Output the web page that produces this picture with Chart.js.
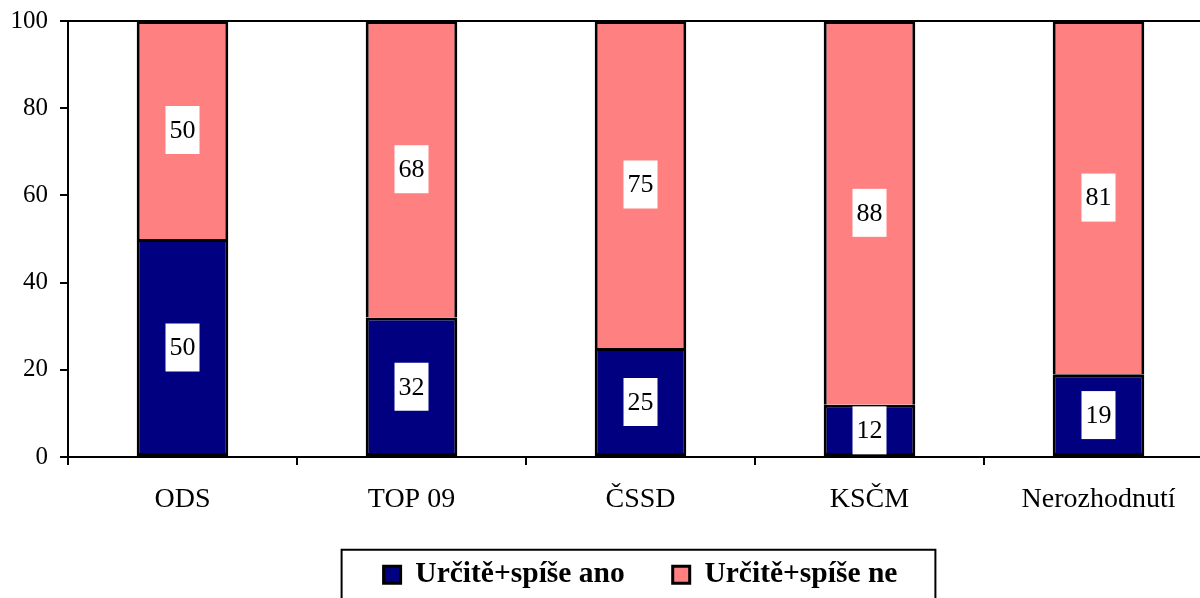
<!DOCTYPE html>
<html>
<head>
<meta charset="utf-8">
<script src="https://cdn.jsdelivr.net/npm/chart.js@4"></script>
<style>
body{margin:0;background:#fff;overflow:hidden;}
#wrap{width:1200px;height:598px;overflow:hidden;}
</style>
</head>
<body>
<div id="wrap"><canvas id="chart" width="1215" height="598"></canvas></div>
<script>
var categories=["ODS","TOP 09","ČSSD","KSČM","Nerozhodnutí"];
var seriesNames=["Určitě+spíše ano","Určitě+spíše ne"];
var anoValues=[50,32,25,12,19];
var neValues=[50,68,75,88,81];
var yTicks=[0,20,40,60,80,100];

var font="'Liberation Serif','Times New Roman',serif";

// white boxes with the numbers in the middle of each segment
var labelPlugin={
	id:"segLabels",
	afterDatasetsDraw:function(chart){
		var ctx=chart.ctx;
		ctx.save();
		ctx.font="26px "+font;
		ctx.textAlign="center";
		ctx.textBaseline="middle";
		chart.data.datasets.forEach(function(ds,i){
			var meta=chart.getDatasetMeta(i);
			meta.data.forEach(function(bar,j){
				var cy=(bar.y+bar.base)/2;
				var txt=String(ds.data[j]);
				var w=ctx.measureText(txt).width+8;
				ctx.fillStyle="#fff";
				ctx.fillRect(bar.x-w/2,cy-24,w,48);
				ctx.fillStyle="#000";
				ctx.fillText(txt,bar.x,cy+1);
			});
		});
		ctx.restore();
	}
};

// frame round the legend
var legendFrame={
	id:"legendFrame",
	afterDraw:function(chart){
		var boxes=chart.legend.legendHitBoxes;
		if(!boxes||!boxes.length)return;
		var first=boxes[0],last=boxes[boxes.length-1];
		var cy=first.top+first.height/2;
		var ctx=chart.ctx;
		ctx.save();
		ctx.strokeStyle="#000";
		ctx.lineWidth=2;
		var l=first.left-42,r=last.left+last.width+38;
		ctx.strokeRect(l,cy-25,r-l,80);
		ctx.restore();
	}
};

var chart=new Chart("chart",{
	type:"bar",
	data:{
		labels:categories,
		datasets:[{
			label:seriesNames[0],
			data:anoValues,
			backgroundColor:"#000080",
			borderColor:"#000",
			borderWidth:3,
			borderSkipped:false,
			barPercentage:0.8,
			categoryPercentage:0.5
		},{
			label:seriesNames[1],
			data:neValues,
			backgroundColor:"#FF8080",
			borderColor:"#000",
			borderWidth:3,
			borderSkipped:"start",
			barPercentage:0.8,
			categoryPercentage:0.5
		}]
	},
	options:{
		responsive:false,
		animation:false,
		devicePixelRatio:1,
		layout:{padding:{top:21,right:2,left:0,bottom:0}},
		scales:{
			x:{
				stacked:true,
				border:{color:"#000",width:2},
				grid:{offset:true,drawOnChartArea:false,tickLength:8,tickColor:"#000",lineWidth:2},
				ticks:{color:"#000",font:{family:font,size:28},padding:18,maxRotation:0},
				afterFit:function(scale){scale.height=55;}
			},
			y:{
				stacked:true,
				min:0,max:100,
				border:{color:"#000",width:2},
				afterBuildTicks:function(scale){scale.ticks=yTicks.map(function(v){return {value:v};});},
				grid:{
					tickLength:8,tickColor:"#000",lineWidth:2,
					color:function(c){return c.tick&&c.tick.value==100?"#000":"rgba(0,0,0,0)";}
				},
				ticks:{color:"#000",font:{family:font,size:25},padding:12},
				afterFit:function(scale){scale.width=68;scale.paddingTop=0;}
			}
		},
		plugins:{
			legend:{
				position:"bottom",
				fullSize:false,
				maxHeight:86,
				labels:{
					color:"#000",
					font:{family:font,size:29.5,weight:"bold"},
					boxWidth:17,boxHeight:17,
					padding:48
				}
			},
			tooltip:{enabled:false}
		}
	},
	plugins:[labelPlugin,legendFrame]
});
</script>
</body>
</html>
